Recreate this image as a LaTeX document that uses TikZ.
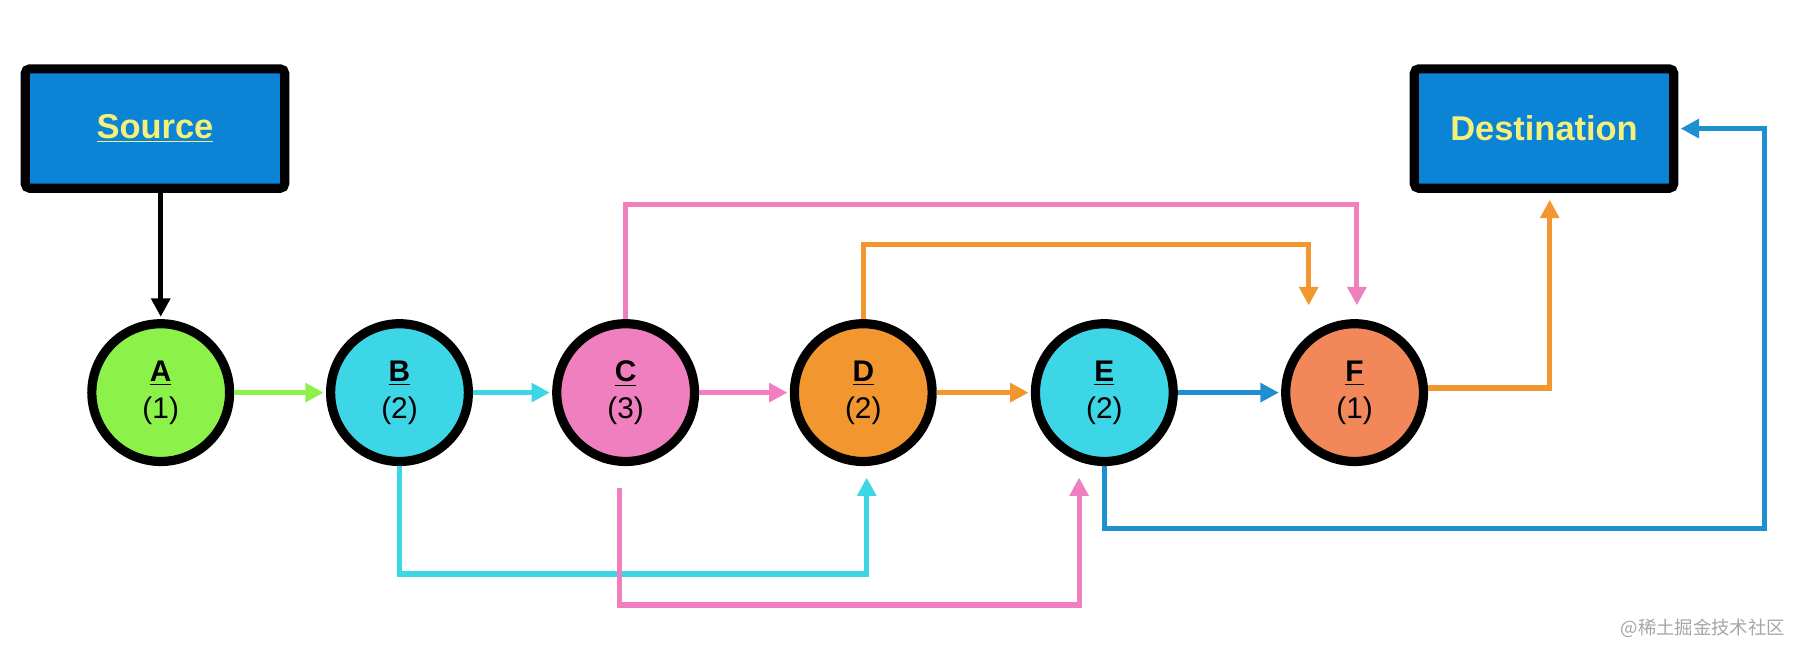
\documentclass[tikz,border=0pt]{standalone}
\usepackage{fontspec}
\setmainfont{Liberation Sans}
\newfontfamily\cjk{Noto Sans CJK SC}
\usetikzlibrary{arrows.meta}
\definecolor{cA}{HTML}{8CF24A}
\definecolor{cB}{HTML}{3DD6E6}
\definecolor{cC}{HTML}{F07FC0}
\definecolor{cD}{HTML}{F2972F}
\definecolor{cF}{HTML}{F2875A}
\definecolor{cBlue}{HTML}{1E90D0}
\definecolor{boxblue}{HTML}{0B84D6}
\definecolor{ytext}{HTML}{F5F07A}
\begin{document}
\begin{tikzpicture}[x=0.5pt,y=-0.5pt,
  box/.style={draw=black,line width=4pt,fill=boxblue,minimum width=113pt,minimum height=52pt,rounded corners=2pt,font=\bfseries\fontsize{15}{17}\selectfont,text=ytext},
  st/.style={circle,draw=black,line width=4pt,minimum size=60pt,inner sep=0pt,align=center,font=\fontsize{13}{16}\selectfont},
  ar/.style={line width=2.2pt,-{Triangle[length=8pt,width=8pt]},shorten >=1pt}]
\useasboundingbox (0,0) rectangle (1568,562);
\node[box] (src) at (135,112) {\underline{Source}};
\node[box] (dst) at (1345,112) {Destination};
\node[st,fill=cA] (A) at (140,342) {\textbf{\underline{A}}\\(1)};
\node[st,fill=cB] (B) at (348,342) {\textbf{\underline{B}}\\(2)};
\node[st,fill=cC] (C) at (545,342) {\textbf{\underline{C}}\\(3)};
\node[st,fill=cD] (D) at (752,342) {\textbf{\underline{D}}\\(2)};
\node[st,fill=cB] (E) at (962,342) {\textbf{\underline{E}}\\(2)};
\node[st,fill=cF] (F) at (1180,342) {\textbf{\underline{F}}\\(1)};
\coordinate (fd) at (1350,172);
\coordinate (fdc) at (1350,338);
\draw[ar,black] (A.north |- src.south) -- (A);
\draw[ar,cA] (A) -- (B);
\draw[ar,cB] (B) -- (C);
\draw[ar,cC] (C) -- (D);
\draw[ar,cD] (D) -- (E);
\draw[ar,cBlue] (E) -- (F);
\draw[ar,cD] (F.east |- fdc) -- (fdc) -- (fd);
\draw[ar,cC] (C.north) -- (545,178) -- (1182,178) -- (1182,268);
\draw[ar,cD] (D.north) -- (752,213) -- (1140,213) -- (1140,268);
\draw[ar,cB] (B.south) -- (348,500) -- (755,500) -- (755,414);
\draw[ar,cC] (540,425) -- (540,527) -- (940,527) -- (940,414);
\draw[ar,cBlue] (E.south) -- (962,460) -- (1537,460) -- (1537,112) -- (dst.east);
\node[text=gray!70,font=\cjk\fontsize{8}{10}\selectfont,anchor=east] (wm) at (1562,547) {@稀土掘金技术社区};
\end{tikzpicture}
\end{document}
